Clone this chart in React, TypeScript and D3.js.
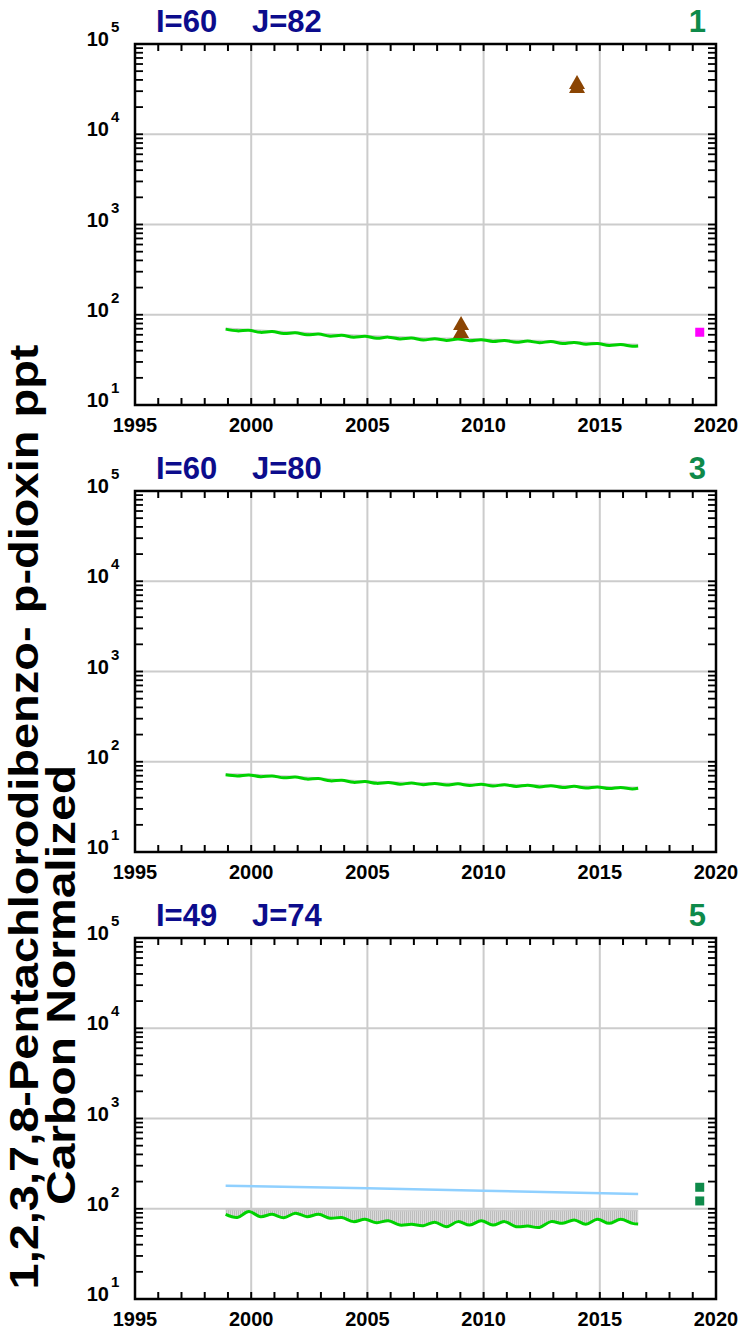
import React from 'react';
import * as d3 from 'd3';

// time grid (decimal years) shared by the modelled series
const times = [
  1998.9, 1999.4, 1999.9, 2000.4, 2000.9, 2001.4, 2001.9, 2002.4, 2002.9, 2003.4,
  2003.9, 2004.4, 2004.9, 2005.4, 2005.9, 2006.4, 2006.9, 2007.4, 2007.9, 2008.4,
  2008.9, 2009.4, 2009.9, 2010.4, 2010.9, 2011.4, 2011.9, 2012.4, 2012.9, 2013.4,
  2013.9, 2014.4, 2014.9, 2015.4, 2015.9, 2016.4, 2016.65,
];

const green1 = [
  69.3, 66.3, 67.2, 63.8, 65.2, 61.9, 63.1, 59.9, 61.1, 57.9,
  59.3, 56.5, 57.8, 55, 56.5, 54, 55.3, 52.5, 54.2, 52,
  53.8, 51.6, 52.9, 50.6, 51.9, 49.6, 51.1, 49.1, 50.4, 48.1,
  49.4, 47.1, 48.1, 45.7, 46.8, 44.7, 45,
];
const grey1 = [
  70.9, 69.9, 68.3, 67.3, 66.2, 65.2, 64.2, 63.1, 62.1, 61.1,
  60.3, 59.5, 58.8, 58, 57.4, 56.9, 56.2, 55.4, 55.1, 54.9,
  54.6, 54.3, 53.8, 53.3, 52.8, 52.3, 52, 51.8, 51.2, 50.7,
  50.2, 49.7, 48.9, 48.1, 47.6, 47.1, 46.8,
];

const green2 = [
  71.8, 69.7, 71.5, 68.3, 69.7, 66.4, 67.7, 64.2, 65.2, 61.4,
  62.3, 59.1, 60.3, 57.6, 59, 56.5, 58, 55.7, 57.5, 55.2,
  56.9, 54.6, 56.3, 53.9, 55.6, 53.3, 55, 52.6, 54.3, 51.9,
  53.4, 51.2, 52.6, 50.4, 51.9, 49.8, 50.8,
];
const grey2 = [
  73.1, 73.1, 72.3, 71.7, 70.6, 69.6, 68.5, 67.4, 65.9, 64.4,
  63, 62, 61, 60.5, 59.7, 59.2, 58.7, 58.4, 58.2, 57.9,
  57.6, 57.3, 57, 56.5, 56.2, 55.9, 55.6, 55.2, 54.9, 54.5,
  54.1, 53.7, 53.3, 52.8, 52.5, 52.2, 52.3,
];

const green3 = [
  86.7, 80, 93, 81.7, 86.7, 79.6, 89, 81.7, 86.7, 78.4,
  80, 72, 76.4, 70, 73.8, 66, 67.5, 64.9, 71, 63.3,
  72, 66, 73.5, 66, 72, 63.3, 64.3, 62, 72, 68.9,
  75, 67.2, 76.4, 68.9, 76.4, 68.9, 67.8,
];
const grey3 = [
  98, 97, 98, 97.5, 97, 97, 96.5, 97, 96.5, 96,
  96, 95.5, 96, 96, 95.5, 95, 95.5, 96, 96, 95.5,
  95, 95.5, 96, 95.5, 95, 95.5, 96, 95.5, 95, 95.5,
  96, 95.5, 95, 95.5, 96, 95.5, 95,
];

const blueYears3 = [1998.9, 2005, 2010, 2016.65];
const blue3 = [180, 168.5, 158.5, 145.6];

const triYears1 = [2009.03, 2009.03, 2014.02, 2014.02];
const triValues1 = [78.9, 64.4, 37000, 33400];

const squareYears1 = [2019.3];
const squareValues1 = [64];
const squareYears3 = [2019.3, 2019.3];
const squareValues3 = [173, 122];

const xTickYears = [1995, 2000, 2005, 2010, 2015, 2020];
const gridYears = [2000, 2005, 2010, 2015];
const decades = [10, 100, 1000, 10000, 100000];

const panelLabels = [
  { i: 'I=60', j: 'J=82', n: '1' },
  { i: 'I=60', j: 'J=80', n: '3' },
  { i: 'I=49', j: 'J=74', n: '5' },
];

const W = 745;
const H = 1333;
const X0 = 135;
const X1 = 716;
const PH = 361;
const TOPS = [44, 491, 938];
const FONT = 'Liberation Sans, Arial, Helvetica, sans-serif';

type PanelProps = {
  top: number;
  label: { i: string; j: string; n: string };
  green: number[];
  grey: number[];
  blue?: { years: number[]; values: number[] };
  tris?: { years: number[]; values: number[] };
  squares?: { years: number[]; values: number[]; color: string };
};

function Panel({ top, label, green, grey, blue, tris, squares }: PanelProps) {
  const x = d3.scaleLinear().domain([1995, 2020]).range([X0, X1]);
  const y = d3.scaleLog().domain([10, 100000]).range([top + PH, top]);
  const bottom = top + PH;
  const curve = d3.curveCatmullRom.alpha(0.5);

  const pts = times.map((t, k) => ({ t, g: green[k], u: grey[k] }));
  const area = d3
    .area<{ t: number; g: number; u: number }>()
    .x((d) => x(d.t))
    .y0((d) => y(d.g))
    .y1((d) => y(d.u))
    .curve(curve);
  const gLine = d3
    .line<{ t: number; g: number; u: number }>()
    .x((d) => x(d.t))
    .y((d) => y(d.g))
    .curve(curve);
  const uLine = d3
    .line<{ t: number; g: number; u: number }>()
    .x((d) => x(d.t))
    .y((d) => y(d.u))
    .curve(curve);

  const yTicks = y.ticks();
  const yearTicks = d3.range(1996, 2020);

  return (
    <g>
      {/* grid */}
      {gridYears.map((yr) => (
        <line key={'gx' + yr} x1={x(yr)} x2={x(yr)} y1={top} y2={bottom} stroke="#cccccc" strokeWidth={2} />
      ))}
      {decades.slice(1, 4).map((v) => (
        <line key={'gy' + v} x1={X0} x2={X1} y1={y(v)} y2={y(v)} stroke="#cccccc" strokeWidth={2} />
      ))}

      {/* grey band */}
      <path d={area(pts) || ''} fill="url(#hatch)" stroke="none" />
      <path d={uLine(pts) || ''} fill="none" stroke="#cccccc" strokeWidth={1.5} />

      {blue && (
        <path
          d={
            d3
              .line<number>()
              .x((_, k) => x(blue.years[k]))
              .y((v) => y(v))(blue.values) || ''
          }
          fill="none"
          stroke="#8fd0ff"
          strokeWidth={2.5}
        />
      )}

      <path d={gLine(pts) || ''} fill="none" stroke="#00d200" strokeWidth={3} strokeLinejoin="round" />

      {tris &&
        tris.values.map((v, k) => {
          const cx = x(tris.years[k]);
          const cy = y(v);
          return (
            <path
              key={'t' + k}
              d={`M${cx},${cy - 8} L${cx + 8},${cy + 6} L${cx - 8},${cy + 6} Z`}
              fill="#8b4503"
            />
          );
        })}

      {squares &&
        squares.values.map((v, k) => (
          <rect
            key={'s' + k}
            x={x(squares.years[k]) - 4.5}
            y={y(v) - 4.5}
            width={9}
            height={9}
            fill={squares.color}
          />
        ))}

      {/* ticks */}
      {yearTicks.map((yr) => (
        <g key={'xt' + yr}>
          <line x1={x(yr)} x2={x(yr)} y1={bottom} y2={bottom - 7} stroke="#000" strokeWidth={2} />
          <line x1={x(yr)} x2={x(yr)} y1={top} y2={top + 7} stroke="#000" strokeWidth={2} />
        </g>
      ))}
      {yTicks.map((v, k) => (
        <g key={'yt' + k}>
          <line x1={X0} x2={X0 + 8} y1={y(v)} y2={y(v)} stroke="#000" strokeWidth={1.8} />
          <line x1={X1} x2={X1 - 8} y1={y(v)} y2={y(v)} stroke="#000" strokeWidth={1.8} />
        </g>
      ))}

      {/* frame */}
      <rect x={X0} y={top} width={X1 - X0} height={PH} fill="none" stroke="#000" strokeWidth={2.5} />

      {/* x labels */}
      {xTickYears.map((yr) => (
        <text
          key={'xl' + yr}
          x={x(yr)}
          y={bottom + 27}
          textAnchor="middle"
          fontFamily={FONT}
          fontWeight="bold"
          fontSize={20}
        >
          {yr}
        </text>
      ))}

      {/* y labels */}
      {decades.map((v) => (
        <g key={'yl' + v}>
          <text x={109} y={y(v) + 2} textAnchor="end" fontFamily={FONT} fontWeight="bold" fontSize={20}>
            10
          </text>
          <text x={111} y={y(v) - 12} fontFamily={FONT} fontWeight="bold" fontSize={15}>
            {Math.round(Math.log10(v))}
          </text>
        </g>
      ))}

      {/* panel labels */}
      <text x={156} y={top - 12} fontFamily={FONT} fontWeight="bold" fontSize={31} fill="#0c0c8c">
        {label.i}
      </text>
      <text x={252} y={top - 12} fontFamily={FONT} fontWeight="bold" fontSize={31} fill="#0c0c8c">
        {label.j}
      </text>
      <text x={706} y={top - 12} textAnchor="end" fontFamily={FONT} fontWeight="bold" fontSize={31} fill="#0e8a4a">
        {label.n}
      </text>
    </g>
  );
}

export default function App() {
  return (
    <svg
      width={W}
      height={H}
      style={{ position: 'absolute', left: 0, top: 0, background: '#fff' }}
    >
      <defs>
        <pattern id="hatch" width={2} height={4} patternUnits="userSpaceOnUse">
          <rect x={0} y={0} width={2} height={4} fill="#dadada" />
          <rect x={0} y={0} width={1} height={4} fill="#bdbdbd" />
        </pattern>
      </defs>
      <rect x={0} y={0} width={W} height={H} fill="#fff" />
      <Panel
        top={TOPS[0]}
        label={panelLabels[0]}
        green={green1}
        grey={grey1}
        tris={{ years: triYears1, values: triValues1 }}
        squares={{ years: squareYears1, values: squareValues1, color: '#ff00ff' }}
      />
      <Panel top={TOPS[1]} label={panelLabels[1]} green={green2} grey={grey2} />
      <Panel
        top={TOPS[2]}
        label={panelLabels[2]}
        green={green3}
        grey={grey3}
        blue={{ years: blueYears3, values: blue3 }}
        squares={{ years: squareYears3, values: squareValues3, color: '#0e8a4a' }}
      />
      <text
        transform="translate(38,817) rotate(-90)"
        textAnchor="middle"
        fontFamily={FONT}
        fontWeight="bold"
        fontSize={40}
        textLength={945}
        lengthAdjust="spacingAndGlyphs"
      >
        1,2,3,7,8-Pentachlorodibenzo- p-dioxin ppt
      </text>
      <text
        transform="translate(75,985) rotate(-90)"
        textAnchor="middle"
        fontFamily={FONT}
        fontWeight="bold"
        fontSize={40}
        textLength={440}
        lengthAdjust="spacingAndGlyphs"
      >
        Carbon Normalized
      </text>
    </svg>
  );
}
